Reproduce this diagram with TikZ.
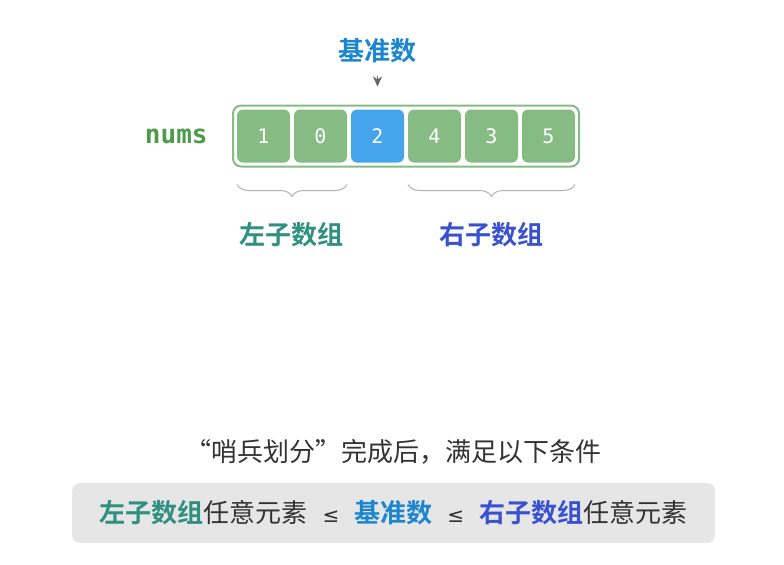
\documentclass[tikz,border=0pt]{standalone}
\usepackage{fontspec}
\setmainfont{Noto Sans CJK SC}[BoldFont={Noto Sans CJK SC Bold}]
\newfontfamily\monofont{DejaVu Sans Mono}
\newfontfamily\symfont{DejaVu Sans}
\usepackage{tikz}
\usetikzlibrary{arrows.meta,positioning,fit,decorations.pathreplacing}

\definecolor{cellgreen}{HTML}{86BC84}
\definecolor{cellblue}{HTML}{45A4EC}
\definecolor{numsgreen}{HTML}{4C9A4A}
\definecolor{pivotblue}{HTML}{1B86CF}
\definecolor{leftteal}{HTML}{2F8F80}
\definecolor{rightblue}{HTML}{3950D0}
\definecolor{boxgray}{HTML}{E6E6E6}
\definecolor{textgray}{HTML}{333333}

\newcommand{\leqsign}{\hspace{7.5pt}{\symfont\fontsize{10}{12}\selectfont ≤}\hspace{7.5pt}}

\begin{document}
\begin{tikzpicture}[
                        >={Stealth[length=5pt,width=4.5pt,inset=1.5pt]},
                        node distance=2pt,
                        cell/.style={fill=cellgreen,rounded corners=3pt,minimum size=26.5pt,
                                     inner sep=0pt,outer sep=0pt,text=white,
                                     font=\monofont\fontsize{10}{12}\selectfont},
                        pivotcell/.style={cell,fill=cellblue},
                        label/.style={inner sep=0pt,font=\fontsize{13}{15}\selectfont\bfseries},
                        brace/.style={decorate,decoration={brace,mirror,amplitude=6pt},
                                      draw=black!30,line width=0.5pt}
                    ]
                    \tikzstyle{every node}=[text=textgray]
                    \useasboundingbox (0,0) rectangle (392pt,-282pt);

                    % array cells
                    \node[cell]      (c1) at (131.75pt,-68pt) {1} ;
                    \node[cell]      (c2) [right=of c1] {0} ;
                    \node[pivotcell] (c3) [right=of c2] {2} ;
                    \node[cell]      (c4) [right=of c3] {4} ;
                    \node[cell]      (c5) [right=of c4] {3} ;
                    \node[cell]      (c6) [right=of c5] {5} ;
                    \node[draw=cellgreen,line width=1pt,rounded corners=4pt,inner sep=2pt,
                          fit=(c1) (c6)] (arr) {} ;
                    \node[label,text=numsgreen,font=\monofont\fontsize{13}{15}\selectfont\bfseries]
                          (nums) [left=12pt of arr] {nums} ;

                    % pivot
                    \node[label,text=pivotblue] (pivot) [above=23pt of c3] {基准数} ;
                    \coordinate (tip) at ([yshift=11.5pt]c3.north) ;
                    \draw[->,draw=black!60,fill=black!60,shorten <=6pt] (pivot.south) -- (tip) ;

                    % sub arrays
                    \draw[brace] ([yshift=-11pt]c1.south west) -- ([yshift=-11pt]c2.south east)
                          node[label,text=leftteal,midway,below=18.5pt] (leftlab) {左子数组} ;
                    \draw[brace] ([yshift=-11pt]c4.south west) -- ([yshift=-11pt]c6.south east)
                          node[label,text=rightblue,midway,below=18.5pt] (rightlab) {右子数组} ;

                    % condition
                    \node[fill=boxgray,rounded corners=4pt,minimum width=321.5pt,minimum height=30pt,
                          font=\fontsize{13}{15}\selectfont] (cond) at (196.75pt,-256.5pt)
                          {{\bfseries\color{leftteal}左子数组}任意元素\leqsign{\bfseries\color{pivotblue}基准数}\leqsign{\bfseries\color{rightblue}右子数组}任意元素} ;
                    \node[font=\fontsize{13}{15}\selectfont] (title) [above=5.5pt of cond]
                          {“哨兵划分”完成后，满足以下条件} ;
                \end{tikzpicture}
\end{document}
